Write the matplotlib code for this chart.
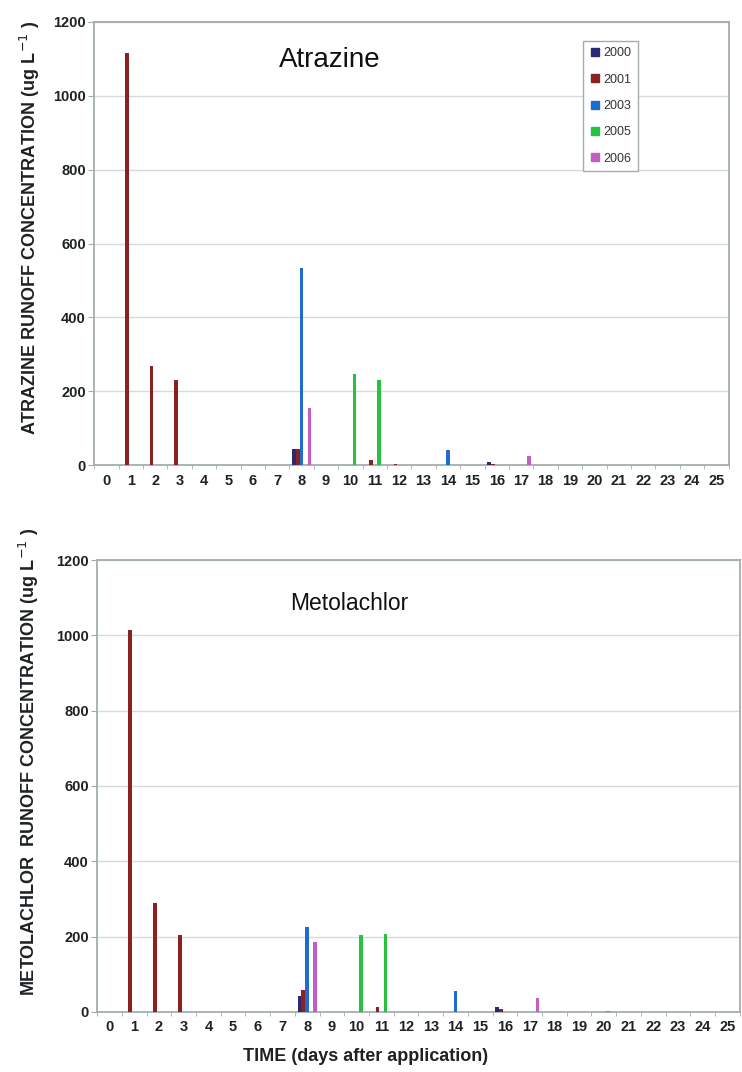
import matplotlib
matplotlib.use('Agg')
import matplotlib.pyplot as plt
from matplotlib.lines import Line2D
import numpy as np

plt.rcParams['font.family'] = ['Liberation Sans', 'DejaVu Sans']

days = list(range(26))
years = ['2000', '2001', '2003', '2005', '2006']
colors = ['#2b2a70', '#8a2222', '#1f6ccf', '#27c240', '#c35dc3']

# atrazine runoff concentration (ug/L), one value per day 0..25
atr_2000 = [0, 0, 0, 0, 0, 0, 0, 0, 44, 0, 0, 0, 0, 0, 0, 0, 8, 0, 0, 0, 0, 0, 0, 0, 0, 0]
atr_2001 = [0, 1115, 268, 230, 0, 0, 0, 0, 44, 0, 0, 13, 4, 0, 0, 0, 3, 0, 0, 0, 0, 0, 0, 0, 0, 0]
atr_2003 = [0, 0, 0, 0, 0, 0, 0, 0, 533, 0, 0, 0, 0, 0, 41, 0, 0, 0, 0, 0, 0, 0, 0, 0, 0, 0]
atr_2005 = [0, 0, 0, 0, 0, 0, 0, 0, 0, 0, 246, 232, 0, 0, 0, 0, 0, 0, 0, 0, 2, 0, 0, 0, 0, 0]
atr_2006 = [0, 0, 0, 0, 0, 0, 0, 0, 156, 0, 0, 0, 0, 0, 0, 0, 0, 25, 0, 0, 0, 0, 0, 0, 0, 0]

# metolachlor runoff concentration (ug/L)
met_2000 = [0, 0, 0, 0, 0, 0, 0, 0, 43, 0, 0, 0, 0, 0, 0, 0, 12, 0, 0, 0, 0, 0, 0, 0, 0, 0]
met_2001 = [0, 1013, 289, 205, 0, 0, 0, 0, 59, 0, 0, 12, 0, 0, 0, 0, 8, 0, 0, 0, 0, 0, 0, 0, 0, 0]
met_2003 = [0, 0, 0, 0, 0, 0, 0, 0, 226, 0, 0, 0, 0, 0, 57, 0, 0, 0, 0, 0, 0, 0, 0, 0, 0, 0]
met_2005 = [0, 0, 0, 0, 0, 0, 0, 0, 0, 0, 205, 208, 0, 0, 0, 0, 0, 0, 0, 0, 2, 0, 0, 0, 0, 0]
met_2006 = [0, 0, 0, 0, 0, 0, 0, 0, 185, 0, 0, 0, 0, 0, 0, 0, 0, 37, 0, 0, 0, 0, 0, 0, 0, 0]

atrazine = [atr_2000, atr_2001, atr_2003, atr_2005, atr_2006]
metolachlor = [met_2000, met_2001, met_2003, met_2005, met_2006]

frame = '#a3adb0'
grid = '#d6dadb'
txt = '#1e2224'


def panel(ax, series, title, tx, tsize, ylabel):
    x = np.arange(len(days))
    slot = 0.16
    for i, vals in enumerate(series):
        ax.bar(x + (i - 2) * slot, vals, width=0.15, color=colors[i], zorder=3)
    ax.set_xlim(-0.5, 25.5)
    ax.set_ylim(0, 1200)
    ax.set_yticks(range(0, 1201, 200))
    ax.yaxis.grid(True, color=grid, lw=1)
    ax.set_axisbelow(True)
    ax.set_xticks(x)
    ax.set_xticklabels([str(d) for d in days])
    ax.set_xticks(np.arange(-0.5, 26, 1), minor=True)
    ax.tick_params(axis='x', which='major', length=0, pad=6)
    ax.tick_params(axis='x', which='minor', length=3, color=frame)
    ax.tick_params(axis='y', length=4, color=frame, pad=2)
    for lab in ax.get_xticklabels() + ax.get_yticklabels():
        lab.set_fontweight('bold')
        lab.set_fontsize(10.5)
        lab.set_color(txt)
    for s in ax.spines.values():
        s.set_color(frame)
        s.set_linewidth(1.3)
    ax.text(tx[0], tx[1], title, transform=ax.transAxes, ha='center', va='center',
            fontsize=tsize, color='#111111')
    ax.set_ylabel(ylabel, fontsize=13, fontweight='bold', color=txt)


fig = plt.figure(figsize=(7.42, 10.72), dpi=100)
ax1 = fig.add_axes([0.127, 0.566, 0.855, 0.4135])
ax2 = fig.add_axes([0.131, 0.056, 0.866, 0.4216])

panel(ax1, atrazine, 'Atrazine', (0.372, 0.914), 20,
      'ATRAZINE RUNOFF CONCENTRATION (ug L$^{-1}$ )')
panel(ax2, metolachlor, 'Metolachlor', (0.393, 0.903), 16.5,
      'METOLACHLOR  RUNOFF CONCENTRATION (ug L$^{-1}$ )')
ax1.yaxis.set_label_coords(-0.083, 0.535)
ax2.yaxis.set_label_coords(-0.087, 0.553)

ax2.set_xlabel('TIME (days after application)', fontsize=13, fontweight='bold', color=txt)
ax2.xaxis.set_label_coords(0.418, -0.08)

handles = [Line2D([], [], marker='s', ls='none', color=c, markersize=6) for c in colors]
leg = ax1.legend(handles, years, loc='upper left', bbox_to_anchor=(0.771, 0.957),
                 fontsize=9, handlelength=0.8, handletextpad=0.3, labelspacing=1.15,
                 borderpad=0.5, fancybox=False, framealpha=1, borderaxespad=0)
leg.get_frame().set_edgecolor(frame)
leg.get_frame().set_linewidth(1)
for t in leg.get_texts():
    t.set_color('#333333')

fig.savefig('out.png', dpi=100)
